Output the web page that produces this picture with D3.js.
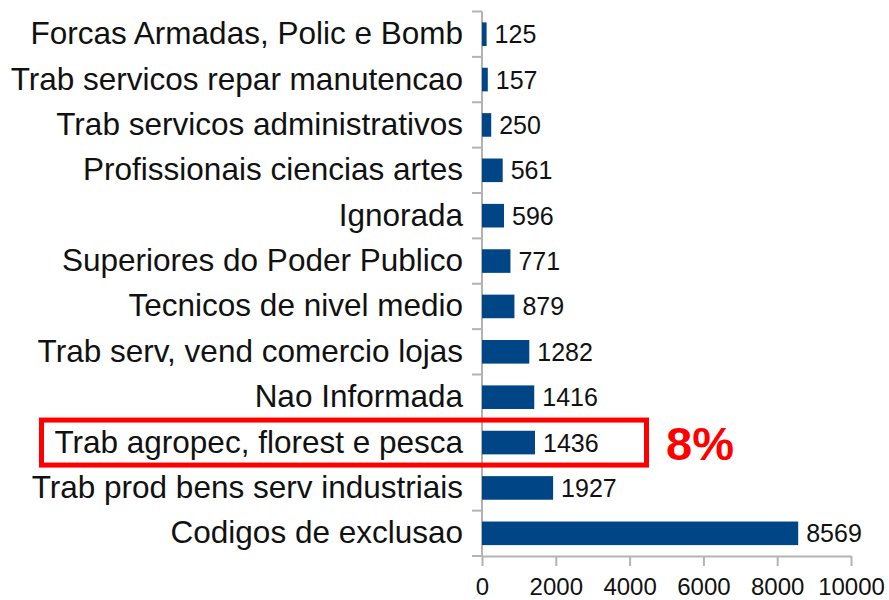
<!DOCTYPE html>
<html>
<head>
<meta charset="utf-8">
<script src="https://cdn.jsdelivr.net/npm/d3@7"></script>
<style>
  html, body { margin: 0; padding: 0; background: #fff; }
  svg { display: block; font-family: "Liberation Sans", Arial, sans-serif; }
</style>
</head>
<body>
<svg id="chart" width="889" height="600"></svg>
<script>
// Occupations, top to bottom
const categories = [
  "Forcas Armadas, Polic e Bomb",
  "Trab servicos repar manutencao",
  "Trab servicos administrativos",
  "Profissionais ciencias artes",
  "Ignorada",
  "Superiores do Poder Publico",
  "Tecnicos de nivel medio",
  "Trab serv, vend comercio lojas",
  "Nao Informada",
  "Trab agropec, florest e pesca",
  "Trab prod bens serv industriais",
  "Codigos de exclusao"
];
const values = [125, 157, 250, 561, 596, 771, 879, 1282, 1416, 1436, 1927, 8569];
const xTicks = [0, 2000, 4000, 6000, 8000, 10000];

// Highlighted row and its share annotation
const highlight = "Trab agropec, florest e pesca";
const highlightText = "8%";

const data = categories.map((c, i) => ({ category: c, value: values[i] }));

const svg = d3.select("#chart");
const plot = { left: 482, right: 851, top: 11.5, bottom: 556 };

const x = d3.scaleLinear().domain([0, 10000]).range([plot.left, plot.right]);
const y = d3.scaleBand().domain(categories).range([plot.top, plot.bottom])
  .paddingInner(0.48).paddingOuter(0.24);

const axisColor = "#b3b3b3";
const barColor = "#004586";
const step = y.step();

// Horizontal axis
const xAxis = svg.append("g")
  .attr("transform", `translate(0,${plot.bottom})`)
  .call(d3.axisBottom(x).tickValues(xTicks).tickFormat(d3.format("d"))
    .tickSize(10).tickSizeOuter(0).tickPadding(12));
xAxis.select(".domain").attr("stroke", axisColor).attr("stroke-width", 2);
xAxis.selectAll(".tick line").attr("stroke", axisColor).attr("stroke-width", 2);
xAxis.selectAll(".tick text")
  .attr("fill", "#111")
  .attr("font-size", 24)
  .attr("font-family", "Liberation Sans, Arial, sans-serif");

// Vertical axis line and row-boundary ticks
svg.append("line")
  .attr("x1", plot.left).attr("x2", plot.left)
  .attr("y1", plot.top).attr("y2", plot.bottom)
  .attr("stroke", axisColor).attr("stroke-width", 2);
const bounds = d3.range(categories.length + 1).map(i => plot.top + i * step);
svg.append("g").selectAll("line").data(bounds).join("line")
  .attr("x1", plot.left - 10).attr("x2", plot.left)
  .attr("y1", d => d).attr("y2", d => d)
  .attr("stroke", axisColor).attr("stroke-width", 2);

// Category labels
svg.append("g").selectAll("text").data(data).join("text")
  .attr("x", plot.left - 19)
  .attr("y", d => y(d.category) + y.bandwidth() / 2 + 10)
  .attr("text-anchor", "end")
  .attr("font-size", 31.5)
  .attr("fill", "#111")
  .text(d => d.category);

// Bars
svg.append("g").selectAll("rect").data(data).join("rect")
  .attr("x", x(0))
  .attr("y", d => y(d.category))
  .attr("width", d => x(d.value) - x(0))
  .attr("height", y.bandwidth())
  .attr("fill", barColor);

// Value labels
svg.append("g").selectAll("text").data(data).join("text")
  .attr("x", d => x(d.value) + 8)
  .attr("y", d => y(d.category) + y.bandwidth() / 2 + 9)
  .attr("font-size", 25)
  .attr("fill", "#111")
  .text(d => d.value);

// Highlight frame around the chosen row and its percentage
const hy = y(highlight) + y.bandwidth() / 2;
svg.append("rect")
  .attr("x", 41.5).attr("y", hy - 22.5)
  .attr("width", 605).attr("height", 45)
  .attr("fill", "none")
  .attr("stroke", "#ff0000")
  .attr("stroke-width", 5);
svg.append("text")
  .attr("x", 666).attr("y", hy + 17)
  .attr("font-size", 47)
  .attr("font-weight", "bold")
  .attr("fill", "#ff0000")
  .text(highlightText);
</script>
</body>
</html>
